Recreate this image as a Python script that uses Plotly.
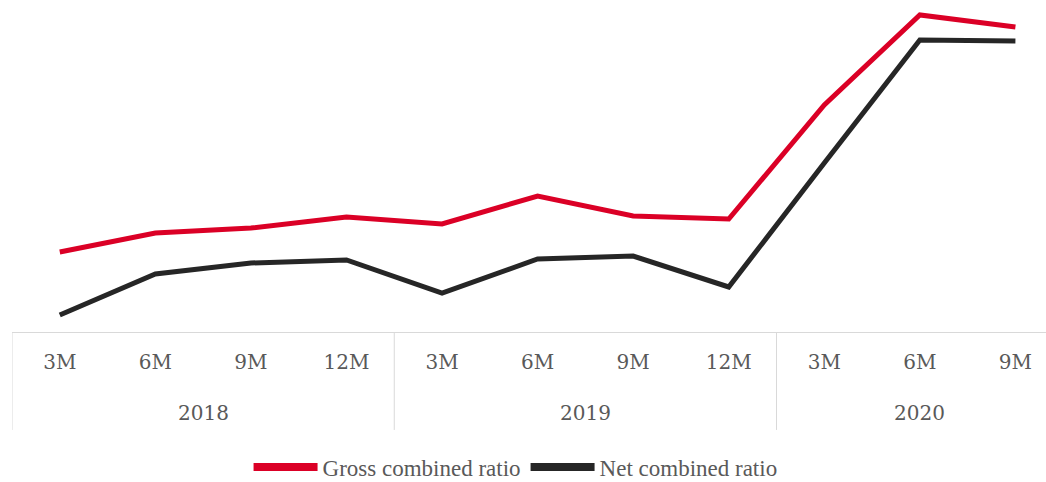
import plotly.graph_objects as go

# Reporting periods (year, cumulative months)
years = ["2018"] * 4 + ["2019"] * 4 + ["2020"] * 3
periods = ["3M", "6M", "9M", "12M", "3M", "6M", "9M", "12M", "3M", "6M", "9M"]

# Combined ratios, %
gross_ratio = [99.8, 101.7, 102.2, 103.3, 102.6, 105.4, 103.4, 103.1, 114.5, 123.5, 122.3]
net_ratio = [93.5, 97.6, 98.7, 99.0, 95.7, 99.1, 99.4, 96.3, 108.7, 121.0, 120.9]

series = [
    ("Gross combined ratio", gross_ratio, "#DB0026"),
    ("Net combined ratio", net_ratio, "#262626"),
]

TEXT = "#595959"
RULE = "#D9D9D9"
SERIF = "DejaVu Serif"

idx = list(range(len(periods)))

fig = go.Figure()
for name, values, color in series:
    fig.add_trace(go.Scatter(
        x=idx, y=values, name=name, legendgroup=name, showlegend=False,
        mode="lines", line=dict(color=color, width=5),
    ))
# Legend keys drawn with a heavier stroke than the plotted lines
for name, values, color in series:
    fig.add_trace(go.Scatter(
        x=[None], y=[None], name=name, legendgroup=name,
        mode="lines", line=dict(color=color, width=8),
    ))

# Year groups: label centred under each group, rules at group boundaries
groups = []
for i, yr in enumerate(years):
    if not groups or groups[-1][0] != yr:
        groups.append([yr, i, i])
    else:
        groups[-1][2] = i

for yr, first, last in groups:
    fig.add_annotation(
        x=(first + last) / 2, y=-0.244, xref="x", yref="paper",
        text=yr, showarrow=False, yanchor="middle",
        font=dict(family=SERIF, size=20, color=TEXT),
    )
    fig.add_shape(
        type="line", xref="x", yref="paper",
        x0=first - 0.5, x1=first - 0.5, y0=0, y1=-0.295,
        line=dict(color=RULE, width=1),
    )

fig.update_layout(
    width=1046, height=482,
    margin=dict(l=12, r=0, t=0, b=150, autoexpand=False),
    paper_bgcolor="white", plot_bgcolor="white",
    showlegend=True,
    legend=dict(
        orientation="h", x=0.487, xanchor="center", y=-0.4066, yanchor="middle",
        font=dict(family="Liberation Serif", size=23, color=TEXT),
        itemwidth=64,
    ),
    xaxis=dict(
        range=[-0.5, 10.32],
        tickmode="array", tickvals=idx, ticktext=periods,
        showline=True, linecolor=RULE, linewidth=1,
        ticks="", ticklabelstandoff=12, showgrid=False, zeroline=False,
        tickfont=dict(family=SERIF, size=20, color=TEXT),
    ),
    yaxis=dict(range=[91.8, 125], visible=False, showgrid=False, zeroline=False),
)

fig.write_html("out.html")
